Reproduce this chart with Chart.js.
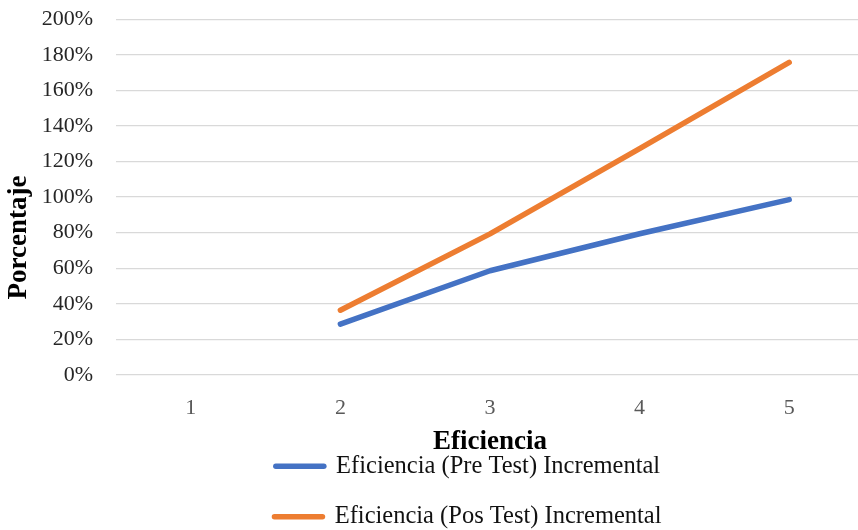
<!DOCTYPE html>
<html>
<head>
<meta charset="utf-8">
<script src="https://cdn.jsdelivr.net/npm/chart.js@4/dist/chart.umd.min.js"></script>
<style>
  html, body { margin: 0; padding: 0; background: #fff; overflow: hidden; width: 858px; height: 530px; }
  #wrap { position: absolute; left: 0; top: 0; width: 870px; height: 530px; }
</style>
</head>
<body>
<div id="wrap"><canvas id="chart"></canvas></div>
<script>
// Categories and series (percent values)
const categories = ['1', '2', '3', '4', '5'];
const preTest = [null, 28.6, 58.6, 79.4, 98.6];
const posTest = [null, 36.4, 79.3, 127.2, 175.7];
const seriesNames = ['Eficiencia (Pre Test) Incremental', 'Eficiencia (Pos Test) Incremental'];
const xTitle = 'Eficiencia';
const yTitle = 'Porcentaje';

const serif = "'Liberation Serif', 'Times New Roman', serif";
const NBSP = '\u00A0';

// Moves the legend block under the plot to its final place
const legendNudge = {
  id: 'legendNudge',
  afterLayout(chart, args, opts) {
    const lg = chart.legend;
    if (!lg) return;
    lg.left += opts.dx; lg.right += opts.dx;
    lg.top += opts.dy; lg.bottom += opts.dy;
  }
};

new Chart(document.getElementById('chart'), {
  type: 'line',
  data: {
    labels: categories,
    datasets: [
      {
        label: seriesNames[0],
        data: preTest,
        borderColor: '#4472C4',
        backgroundColor: '#4472C4',
        borderWidth: 5.5,
        borderCapStyle: 'round',
        borderJoinStyle: 'round',
        pointRadius: 0,
        tension: 0
      },
      {
        label: seriesNames[1],
        data: posTest,
        borderColor: '#ED7D31',
        backgroundColor: '#ED7D31',
        borderWidth: 5.5,
        borderCapStyle: 'round',
        borderJoinStyle: 'round',
        pointRadius: 0,
        tension: 0
      }
    ]
  },
  options: {
    responsive: true,
    maintainAspectRatio: false,
    animation: false,
    layout: { padding: { top: 6, right: 6, bottom: 0, left: 0 } },
    scales: {
      x: {
        offset: true,
        grid: { display: false },
        border: { display: false },
        ticks: { color: '#595959', font: { family: serif, size: 22 }, padding: 12 },
        title: {
          display: true,
          text: xTitle,
          color: '#000',
          font: { family: serif, size: 27, weight: 'bold' },
          padding: { top: 0, bottom: -39 }
        },
        afterFit(scale) { scale.height = 44; }
      },
      y: {
        min: 0,
        max: 200,
        ticks: {
          stepSize: 20,
          color: '#262626',
          font: { family: serif, size: 22 },
          padding: 6,
          callback: v => v + '%'
        },
        // invisible tick marks give the gap between labels and plot
        grid: { color: '#d9d9d9', lineWidth: 1.3, drawTicks: true, tickLength: 17, tickColor: 'rgba(0,0,0,0)' },
        border: { display: false },
        title: {
          display: true,
          // trailing spaces keep the title a little below the axis middle
          text: yTitle + NBSP.repeat(12),
          color: '#000',
          font: { family: serif, size: 27, weight: 'bold' },
          padding: { top: 3, bottom: 0 }
        },
        afterFit(scale) { scale.width = 116; }
      }
    },
    plugins: {
      legend: {
        position: 'bottom',
        fullSize: false,
        labels: {
          usePointStyle: true,
          pointStyle: 'line',
          pointStyleWidth: 48,
          color: '#111',
          font: { family: serif, size: 24.5 },
          padding: 26,
          generateLabels(chart) {
            return Chart.defaults.plugins.legend.labels.generateLabels(chart)
              .map(item => Object.assign(item, { lineCap: 'round', lineWidth: 5.5 }));
          }
        }
      },
      legendNudge: { dx: -22, dy: 9 },
      tooltip: { enabled: false }
    }
  },
  plugins: [legendNudge]
});
</script>
</body>
</html>
